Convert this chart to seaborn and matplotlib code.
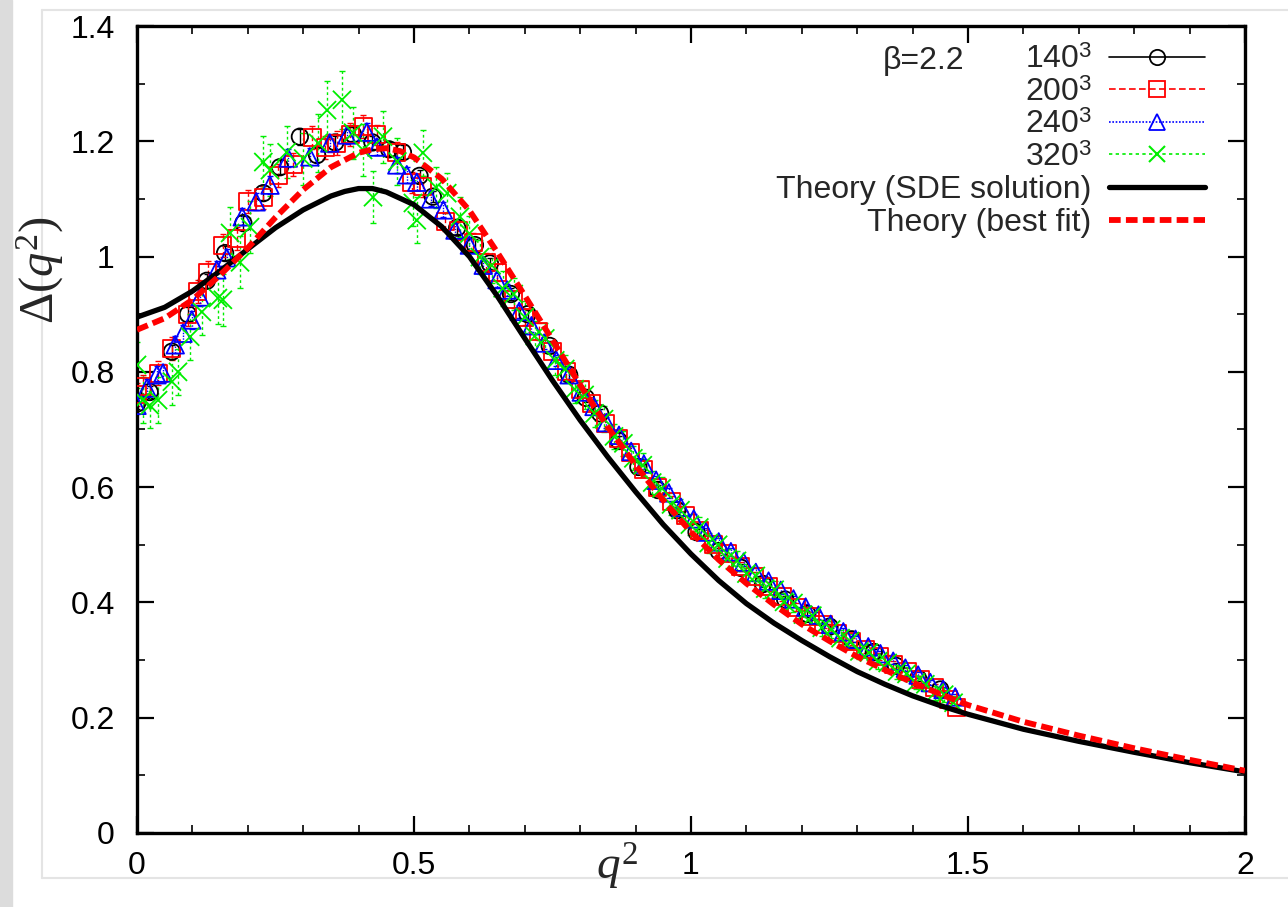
import matplotlib
matplotlib.use("Agg")
import numpy as np
import pandas as pd
import matplotlib.pyplot as plt
import seaborn as sns
from matplotlib.lines import Line2D
from matplotlib.patches import Rectangle
from matplotlib.ticker import MultipleLocator, FuncFormatter

# ---------------- data ----------------
q_140 = [0.000, 0.023, 0.063, 0.092, 0.126, 0.159, 0.192, 0.228, 0.258, 0.294, 0.325, 0.358, 0.390, 0.425,
         0.455, 0.480, 0.510, 0.534, 0.578, 0.610, 0.637, 0.675, 0.705, 0.745, 0.780, 0.810, 0.836, 0.870,
         0.905, 0.940, 0.975, 1.010, 1.050, 1.090, 1.130, 1.170, 1.210, 1.250, 1.290, 1.330, 1.370, 1.410, 1.450]
d_140 = [0.745, 0.765, 0.835, 0.900, 0.958, 1.006, 1.058, 1.110, 1.155, 1.208, 1.176, 1.198, 1.212, 1.198,
         1.186, 1.181, 1.140, 1.104, 1.050, 1.020, 0.988, 0.935, 0.900, 0.845, 0.795, 0.755, 0.728, 0.680,
         0.635, 0.595, 0.560, 0.522, 0.489, 0.460, 0.432, 0.405, 0.380, 0.358, 0.336, 0.314, 0.290, 0.268, 0.249]
e_140 = [0.010, 0.010, 0.012, 0.012, 0.012, 0.012, 0.012, 0.012, 0.012, 0.014, 0.012, 0.012, 0.012, 0.012,
         0.012, 0.012, 0.010, 0.010, 0.010, 0.010, 0.010, 0.010, 0.008, 0.008, 0.008, 0.008, 0.008, 0.008,
         0.008, 0.008, 0.006, 0.006, 0.006, 0.006, 0.006, 0.006, 0.005, 0.005, 0.005, 0.005, 0.005, 0.005, 0.005]

q_200 = [0.000, 0.010, 0.038, 0.063, 0.092, 0.110, 0.128, 0.155, 0.180, 0.200, 0.228, 0.255, 0.282, 0.316,
         0.340, 0.361, 0.385, 0.408, 0.433, 0.469, 0.496, 0.516, 0.556, 0.580, 0.607, 0.630, 0.650, 0.680,
         0.700, 0.725, 0.750, 0.775, 0.800, 0.820, 0.845, 0.870, 0.890, 0.915, 0.940, 0.965, 0.990, 1.015,
         1.040, 1.065, 1.090, 1.115, 1.140, 1.165, 1.190, 1.215, 1.240, 1.265, 1.290, 1.315, 1.340, 1.365,
         1.390, 1.415, 1.440, 1.465, 1.480]
d_200 = [0.760, 0.774, 0.798, 0.841, 0.899, 0.939, 0.973, 1.020, 1.032, 1.095, 1.103, 1.140, 1.159, 1.206,
         1.190, 1.197, 1.212, 1.225, 1.211, 1.180, 1.128, 1.121, 1.060, 1.045, 1.025, 0.990, 0.972, 0.925,
         0.895, 0.870, 0.835, 0.800, 0.770, 0.745, 0.710, 0.685, 0.660, 0.630, 0.600, 0.575, 0.550, 0.525,
         0.500, 0.485, 0.462, 0.445, 0.428, 0.410, 0.392, 0.376, 0.362, 0.346, 0.332, 0.318, 0.306, 0.292,
         0.280, 0.266, 0.252, 0.232, 0.218]
e_200 = [0.020, 0.020, 0.020, 0.020, 0.020, 0.020, 0.020, 0.020, 0.020, 0.020, 0.020, 0.020, 0.020, 0.020,
         0.020, 0.020, 0.020, 0.020, 0.018, 0.018, 0.018, 0.018, 0.016, 0.016, 0.016, 0.016, 0.015, 0.015,
         0.014, 0.014, 0.013, 0.013, 0.012, 0.012, 0.012, 0.011, 0.011, 0.010, 0.010, 0.010, 0.009, 0.009,
         0.009, 0.008, 0.008, 0.008, 0.008, 0.007, 0.007, 0.007, 0.007, 0.007, 0.006, 0.006, 0.006, 0.006,
         0.006, 0.006, 0.006, 0.006, 0.006]

q_240 = [0.000, 0.018, 0.036, 0.047, 0.069, 0.083, 0.099, 0.114, 0.144, 0.162, 0.190, 0.215, 0.240, 0.273,
         0.312, 0.348, 0.379, 0.415, 0.433, 0.469, 0.487, 0.505, 0.530, 0.553, 0.574, 0.600, 0.625, 0.650,
         0.668, 0.690, 0.712, 0.735, 0.757, 0.780, 0.802, 0.825, 0.847, 0.870, 0.892, 0.915, 0.937, 0.960,
         0.982, 1.005, 1.027, 1.050, 1.072, 1.095, 1.117, 1.140, 1.162, 1.185, 1.207, 1.230, 1.252, 1.275,
         1.297, 1.320, 1.342, 1.365, 1.387, 1.410, 1.432, 1.455, 1.477]
d_240 = [0.742, 0.772, 0.795, 0.798, 0.847, 0.867, 0.890, 0.930, 0.977, 0.998, 1.069, 1.095, 1.124, 1.171,
         1.173, 1.197, 1.211, 1.216, 1.190, 1.159, 1.142, 1.129, 1.100, 1.081, 1.046, 1.020, 0.985, 0.960,
         0.942, 0.905, 0.880, 0.850, 0.820, 0.795, 0.765, 0.740, 0.712, 0.690, 0.662, 0.640, 0.612, 0.590,
         0.565, 0.545, 0.522, 0.505, 0.488, 0.470, 0.452, 0.437, 0.421, 0.406, 0.392, 0.378, 0.362, 0.349,
         0.336, 0.323, 0.311, 0.298, 0.286, 0.274, 0.261, 0.249, 0.236]
e_240 = [0.015, 0.015, 0.015, 0.015, 0.015, 0.015, 0.015, 0.015, 0.015, 0.015, 0.015, 0.015, 0.015, 0.015,
         0.015, 0.015, 0.015, 0.015, 0.014, 0.014, 0.014, 0.014, 0.013, 0.013, 0.013, 0.012, 0.012, 0.012,
         0.011, 0.011, 0.011, 0.010, 0.010, 0.010, 0.010, 0.009, 0.009, 0.009, 0.009, 0.008, 0.008, 0.008,
         0.008, 0.008, 0.007, 0.007, 0.007, 0.007, 0.007, 0.006, 0.006, 0.006, 0.006, 0.006, 0.006, 0.006,
         0.005, 0.005, 0.005, 0.005, 0.005, 0.005, 0.005, 0.005, 0.005]

q_320 = [0.000, 0.010, 0.023, 0.038, 0.063, 0.074, 0.096, 0.117, 0.146, 0.155, 0.168, 0.186, 0.204, 0.228,
         0.240, 0.270, 0.300, 0.327, 0.343, 0.370, 0.390, 0.408, 0.426, 0.444, 0.470, 0.498, 0.505, 0.516,
         0.540, 0.560, 0.583, 0.600, 0.619, 0.640, 0.660, 0.680, 0.700, 0.718, 0.737, 0.755, 0.773, 0.790,
         0.808, 0.826, 0.843, 0.861, 0.878, 0.896, 0.913, 0.930, 0.947, 0.964, 0.981, 0.998, 1.015, 1.032,
         1.049, 1.066, 1.083, 1.100, 1.117, 1.134, 1.151, 1.168, 1.185, 1.202, 1.219, 1.236, 1.253, 1.270,
         1.287, 1.304, 1.321, 1.338, 1.355, 1.372, 1.389, 1.406, 1.423, 1.440, 1.457, 1.474]
d_320 = [0.812, 0.751, 0.742, 0.751, 0.783, 0.800, 0.861, 0.904, 0.928, 0.925, 1.041, 0.990, 1.051, 1.164,
         1.150, 1.181, 1.170, 1.197, 1.254, 1.272, 1.215, 1.185, 1.103, 1.208, 1.165, 1.093, 1.063, 1.180,
         1.120, 1.110, 1.069, 1.040, 0.999, 0.985, 0.945, 0.935, 0.895, 0.862, 0.858, 0.820, 0.805, 0.770,
         0.760, 0.728, 0.718, 0.688, 0.676, 0.650, 0.638, 0.608, 0.598, 0.570, 0.560, 0.535, 0.530, 0.503,
         0.500, 0.476, 0.472, 0.450, 0.446, 0.424, 0.422, 0.401, 0.399, 0.379, 0.377, 0.356, 0.353, 0.338,
         0.333, 0.315, 0.313, 0.298, 0.295, 0.280, 0.276, 0.261, 0.258, 0.243, 0.240, 0.226]
e_320 = [0.040, 0.040, 0.040, 0.040, 0.040, 0.040, 0.040, 0.040, 0.045, 0.045, 0.045, 0.045, 0.045, 0.045,
         0.045, 0.045, 0.045, 0.050, 0.050, 0.050, 0.045, 0.045, 0.045, 0.045, 0.040, 0.040, 0.040, 0.040,
         0.035, 0.035, 0.035, 0.030, 0.030, 0.030, 0.030, 0.028, 0.028, 0.026, 0.026, 0.025, 0.025, 0.024,
         0.024, 0.023, 0.023, 0.022, 0.022, 0.021, 0.021, 0.020, 0.020, 0.019, 0.019, 0.018, 0.018, 0.018,
         0.017, 0.017, 0.017, 0.016, 0.016, 0.016, 0.015, 0.015, 0.015, 0.015, 0.014, 0.014, 0.014, 0.014,
         0.013, 0.013, 0.013, 0.013, 0.013, 0.012, 0.012, 0.012, 0.012, 0.012, 0.012, 0.012]

q_sde = [0.00, 0.05, 0.10, 0.15, 0.20, 0.25, 0.30, 0.35, 0.375, 0.40, 0.425, 0.45, 0.50, 0.55, 0.60, 0.65,
         0.70, 0.75, 0.80, 0.85, 0.90, 0.95, 1.00, 1.05, 1.10, 1.15, 1.20, 1.25, 1.30, 1.35, 1.40, 1.45,
         1.50, 1.60, 1.70, 1.80, 1.90, 2.00]
d_sde = [0.895, 0.912, 0.940, 0.975, 1.013, 1.050, 1.081, 1.105, 1.113, 1.118, 1.118, 1.112, 1.090, 1.052,
         1.000, 0.932, 0.858, 0.785, 0.716, 0.652, 0.592, 0.535, 0.484, 0.438, 0.398, 0.364, 0.334, 0.306,
         0.280, 0.258, 0.238, 0.221, 0.206, 0.180, 0.159, 0.140, 0.122, 0.106]

q_fit = [0.00, 0.05, 0.10, 0.15, 0.20, 0.25, 0.30, 0.35, 0.40, 0.425, 0.45, 0.475, 0.50, 0.55, 0.60, 0.65,
         0.70, 0.75, 0.80, 0.85, 0.90, 0.95, 1.00, 1.05, 1.10, 1.15, 1.20, 1.25, 1.30, 1.35, 1.40, 1.45,
         1.50, 1.60, 1.70, 1.80, 1.90, 2.00]
d_fit = [0.873, 0.893, 0.925, 0.968, 1.015, 1.068, 1.116, 1.155, 1.180, 1.186, 1.188, 1.183, 1.172, 1.135,
         1.080, 1.008, 0.932, 0.855, 0.777, 0.704, 0.638, 0.577, 0.522, 0.474, 0.433, 0.396, 0.362, 0.333,
         0.306, 0.283, 0.261, 0.241, 0.222, 0.193, 0.169, 0.147, 0.127, 0.108]

labels = ["140$^{\\mathsf{3}}$", "200$^{\\mathsf{3}}$", "240$^{\\mathsf{3}}$", "320$^{\\mathsf{3}}$",
          "Theory (SDE solution)", "Theory (best fit)"]
x_ticks = [0, 0.5, 1, 1.5, 2]
y_ticks = [0, 0.2, 0.4, 0.6, 0.8, 1.0, 1.2, 1.4]

# ---------------- style ----------------
sns.set_theme(style="ticks")
plt.rcParams["font.family"] = ["Liberation Sans", "DejaVu Sans"]
plt.rcParams["mathtext.fontset"] = "custom"
plt.rcParams["mathtext.rm"] = "Liberation Serif"
plt.rcParams["mathtext.it"] = "Liberation Serif:italic"
plt.rcParams["mathtext.sf"] = "Liberation Sans"

FS = 23
fig = plt.figure(figsize=(12.88, 9.07), dpi=100)
fig.patch.set_facecolor("white")
# screenshot-like frame (behind the axes)
fig.add_artist(Rectangle((0, 0), 12 / 1288, 1, transform=fig.transFigure, color="#dcdcdc", zorder=-5))
for xs, ys in [([42 / 1288, 42 / 1288], [1 - 878 / 907, 1 - 10 / 907]),
               ([42 / 1288, 1], [1 - 10 / 907, 1 - 10 / 907]),
               ([42 / 1288, 1], [1 - 878 / 907, 1 - 878 / 907])]:
    fig.add_artist(Line2D(xs, ys, transform=fig.transFigure, color="#e4e4e4", lw=1.5, zorder=-5))

ax = fig.add_axes([137 / 1288, 1 - 833 / 907, (1245 - 137) / 1288, (833 - 26) / 907])
ax.set_facecolor("white")

series = [
    (q_140, d_140, e_140, "black", "o", 140, "solid"),
    (q_200, d_200, e_200, "#ff0000", "s", 150, (0, (4, 2))),
    (q_240, d_240, e_240, "#0000ff", "^", 160, (0, (1, 1))),
    (q_320, d_320, e_320, "#00ee00", "x", 170, (0, (2, 2))),
]
for q, d, e, c, m, s, ls in series:
    eb = ax.errorbar(q, d, yerr=e, fmt="none", ecolor=c, elinewidth=1.0, capsize=2.5, capthick=1.0, zorder=2)
    for lc in eb.lines[2]:
        lc.set_linestyle(ls)
    df = pd.DataFrame({"q": q, "d": d})
    sns.scatterplot(data=df, x="q", y="d", marker=m, s=s, color=c, linewidth=1.3, ax=ax, legend=False, zorder=3)
    pts = ax.collections[-1]
    pts.set_facecolor("none")
    pts.set_edgecolor(c)
    pts.set_linewidth(1.3)

sns.lineplot(x=q_sde, y=d_sde, color="black", lw=3.8, ax=ax, estimator=None, sort=False, legend=False, zorder=4)
sns.lineplot(x=q_fit, y=d_fit, color="#ff0000", lw=4.2, ax=ax, estimator=None, sort=False, legend=False, zorder=5)
ax.lines[-1].set_linestyle((0, (2, 0.9)))

ax.set_xlim(0, 2)
ax.set_ylim(0, 1.4)
ax.set_xticks(x_ticks)
ax.set_yticks(y_ticks)
ax.xaxis.set_minor_locator(MultipleLocator(0.1))
ax.yaxis.set_minor_locator(MultipleLocator(0.1))
fmt = FuncFormatter(lambda v, p: f"{v:g}")
ax.xaxis.set_major_formatter(fmt)
ax.yaxis.set_major_formatter(fmt)
ax.tick_params(which="major", direction="in", length=12, width=1.6, top=True, right=True,
               labelsize=FS, colors="black")
ax.tick_params(which="minor", direction="in", length=6, width=1.4, top=True, right=True)
ax.tick_params(axis="y", which="major", pad=16)
ax.tick_params(axis="x", which="major", pad=13)
for sp in ax.spines.values():
    sp.set_linewidth(2.4)
    sp.set_color("black")

ax.set_xlabel("$q^2$", fontsize=34)
ax.set_ylabel("$\\Delta(q^2)$", fontsize=35)
ax.xaxis.set_label_coords((617 - 137) / 1108, -0.010)
ax.yaxis.set_label_coords((66 - 137) / 1108, (833 - 270) / 807)

ax.text((883 - 137) / 1108, (833 - 61) / 807, "β=2.2", transform=ax.transAxes, fontsize=FS,
        ha="left", va="center")

handles = [
    Line2D([], [], color="black", lw=1.2, ls="-", marker="o", mfc="none", mec="black", ms=11, mew=1.3),
    Line2D([], [], color="#ff0000", lw=1.2, ls=(0, (4, 2)), marker="s", mfc="none", mec="#ff0000", ms=12, mew=1.3),
    Line2D([], [], color="#0000ff", lw=1.2, ls=(0, (1, 1)), marker="^", mfc="none", mec="#0000ff", ms=12, mew=1.3),
    Line2D([], [], color="#00ee00", lw=1.2, ls=(0, (2, 2)), marker="x", mfc="none", mec="#00ee00", ms=12, mew=1.5),
    Line2D([], [], color="black", lw=3.8, ls="-"),
    Line2D([], [], color="#ff0000", lw=4.2, ls=(0, (2, 0.9))),
]
leg = ax.legend(handles, labels, loc="upper right", bbox_to_anchor=((1205 - 137) / 1108, (833 - 45) / 807),
                frameon=False, fontsize=FS, markerfirst=False, handlelength=3.0, handletextpad=0.55,
                labelspacing=0.08, borderaxespad=0, borderpad=0)
try:
    leg._legend_box._children[-1]._children[0].align = "right"
except Exception:
    pass

fig.savefig("out.png", dpi=100, facecolor="white")
